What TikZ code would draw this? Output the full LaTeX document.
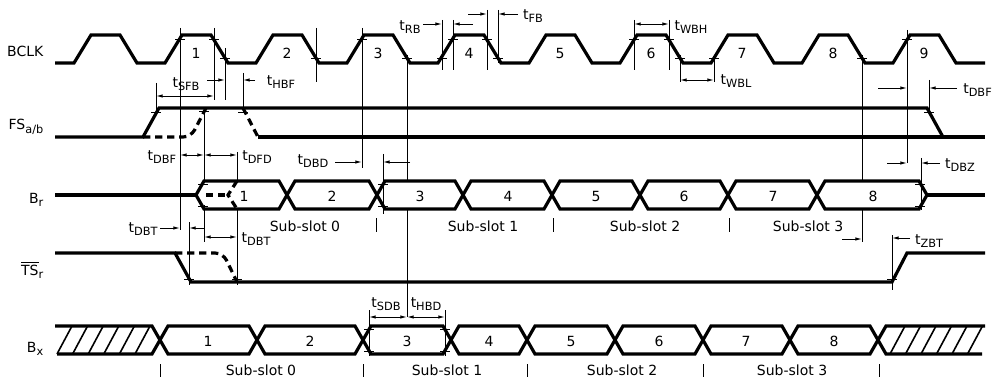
\documentclass[tikz,border=0pt]{standalone}
\usepackage{fontspec}
\setmainfont{DejaVu Sans}
\usetikzlibrary{arrows.meta}
\newcommand{\sbs}[1]{\raisebox{-0.45ex}{\fontsize{8.5}{10}\selectfont #1}}
\newcommand{\tlab}[1]{t\sbs{#1}}

\begin{document}
\begin{tikzpicture}[x=0.75pt,y=-0.75pt,
    font=\fontsize{10.5}{12}\selectfont,
    sig/.style={line width=2.4pt},
    dsig/.style={line width=2.4pt,dash pattern=on 5.5pt off 3.5pt,rounded corners=6pt},
    refl/.style={line width=0.7pt},
    hatch/.style={line width=1.2pt},
    meas/.style={line width=0.7pt,-{Latex[length=5pt,width=2.6pt]}},
    dmeas/.style={line width=0.7pt,{Latex[length=5pt,width=2.6pt]}-{Latex[length=5pt,width=2.6pt]}},
    lab/.style={inner sep=0pt}]
\useasboundingbox (0,0) rectangle (995,381);

% signal names
\node[anchor=base east] (nbclk) at (48,57) {BCLK};
\node[anchor=base east] (nfs) at (48,130) {FS\sbs{a/b}};
\node[anchor=base east] (nbr) at (48,203) {B\sbs{r}};
\node[anchor=base east] (nts) at (48,275) {$\overline{\mbox{TS}}$\sbs{r}};
\node[anchor=base east] (nbx) at (48,352) {B\sbs{x}};

% BCLK
\draw[sig] (55,63) \foreach \k in {0,...,9}{ -- ({74+91*\k},63) -- ({91+91*\k},35) -- ({120+91*\k},35) -- ({137+91*\k},63)} -- (985,63);
\foreach \k in {1,...,9} \node (p\k) at ({105+91*\k},53) {\k};

% FS a/b
\draw[sig] (55,137) -- (143,137) -- (159,108) -- (927,108) -- (943,137);
\draw[sig] (258,137) -- (985,137);
\draw[dsig] (143,137) -- (191,137) -- (206,108);
\draw[dsig] (243,108) -- (258,137);

% B r
\draw[sig] (55,195) -- (196,195);
\foreach \a/\b in {196/287,287/377,377/463,463/552,552/640,640/728,728/817,817/927}
  \draw[sig] (\a,195) -- (\a+8,181) -- (\b-8,181) -- (\b,195) -- (\b-8,209) -- (\a+8,209) -- cycle;
\draw[sig] (927,195) -- (985,195);
\draw[dsig,rounded corners=0pt] (206,195) -- (228,195);
\draw[dsig,rounded corners=0pt] (237,181) -- (228,195) -- (237,209);
\foreach \x/\n in {244/1,332/2,420/3,508/4,596/5,684/6,773/7,873/8} \node (r\n) at (\x,196) {\n};
\foreach \x/\n in {305/0,483/1,645/2,808/3} \node (rs\n) at (\x,226) {Sub-slot \n};
\foreach \x in {376,553,729} \draw[refl] (\x,218) -- (\x,232);

% TS r
\draw[sig] (55,253) -- (175,253) -- (191,282) -- (892,282) -- (907,253) -- (985,253);
\draw[dsig] (175,253) -- (223,253) -- (237,282);

% B x
\draw[sig] (55,326) -- (152,326) -- (160,340) -- (152,354) -- (57,354);
\foreach \k in {0,...,5} \draw[hatch] ({57+15.6*\k},354) -- ({72+15.6*\k},326);
\foreach \a/\b in {160/257,257/363,363/451,451/527,527/615,615/703,703/790,790/878}
  \draw[sig] (\a,340) -- (\a+8,326) -- (\b-8,326) -- (\b,340) -- (\b-8,354) -- (\a+8,354) -- cycle;
\draw[sig] (985,326) -- (886,326) -- (878,340) -- (886,354) -- (982,354);
\foreach \k in {0,...,5} \draw[hatch] ({890+15.5*\k},354) -- ({905+15.5*\k},326);
\foreach \x/\n in {208/1,310/2,407/3,489/4,571/5,659/6,746/7,834/8} \node (x\n) at (\x,341) {\n};
\foreach \x/\n in {261/0,447/1,622/2,792/3} \node (xs\n) at (\x,370) {Sub-slot \n};
\foreach \x in {160,363,527,703,879} \draw[refl] (\x,364) -- (\x,377);

% reference lines
\foreach \x/\ya/\yb in {156/83/113,180/28/230,214/28/100,225/48/100,243/73/113,316/28/82,
    362/28/168,407/55/180,407/210/317,442/20/70,453/20/70,487/10/70,498/10/63,
    634/20/70,669/20/70,680/55/82,714/55/82,862/55/180,862/210/242,907/30/163,
    929/80/113,921/158/210,892/235/290,204/110/181,204/205/242,237/152/181,
    237/208/285,189/222/285,383/154/214,369/310/356,445/310/356}
  \draw[refl] (\x,\ya) -- (\x,\yb);
\foreach \x/\y in {180/39,214/39,225/58,316/58,362/39,407/58,442/58,453/39,487/39,498/58,
    634/39,669/39,680/58,714/58,862/58,907/39,156/112,204/111,243/112,929/112,
    203/184,203/206,383/184,383/206,920/184,920/206,189/279,237/279,892/279,
    369/329,369/351,445/329,445/351}
  \draw[refl] (\x-5,\y) -- (\x+5,\y);

% timing arrows
\draw[dmeas] (156,96) -- (214,96);
\draw[meas] (207,80) -- (225,80);
\draw[meas] (255,80) -- (243,80);
\draw[dmeas] (180,155) -- (204,155);
\draw[dmeas] (204,155) -- (237,155);
\draw[meas] (335,162) -- (362,162);
\draw[meas] (410,162) -- (383,162);
\draw[meas] (423,24) -- (442,24);
\draw[meas] (473,24) -- (453,24);
\draw[meas] (468,14) -- (487,14);
\draw[meas] (518,14) -- (498,14);
\draw[dmeas] (634,24) -- (669,24);
\draw[dmeas] (680,80) -- (714,80);
\draw[meas] (878,88) -- (907,88);
\draw[meas] (957,88) -- (929,88);
\draw[meas] (887,163) -- (907,163);
\draw[meas] (940,163) -- (921,163);
\draw[meas] (842,239) -- (862,239);
\draw[meas] (910,238) -- (892,238);
\draw[meas] (160,228) -- (180,228);
\draw[meas] (204,228) -- (189,228);
\draw[dmeas] (204,237) -- (237,237);
\draw[dmeas] (369,317) -- (407,317);
\draw[dmeas] (407,317) -- (445,317);

% timing names
\node[lab] (tsfb) at (186,84) {\tlab{SFB}};
\node[lab] (thbf) at (281,82) {\tlab{HBF}};
\node[lab] (tdbf) at (162,157) {\tlab{DBF}};
\node[lab] (tdfd) at (257,157) {\tlab{DFD}};
\node[lab] (tdbd) at (313,161) {\tlab{DBD}};
\node[lab] (trb) at (410,27) {\tlab{RB}};
\node[lab] (tfb) at (533,16) {\tlab{FB}};
\node[lab] (twbh) at (691,27) {\tlab{WBH}};
\node[lab] (twbl) at (736,81) {\tlab{WBL}};
\node[lab,anchor=west] (tdbf2) at (963,90) {\tlab{DBF}};
\node[lab] (tdbz) at (960,165) {\tlab{DBZ}};
\node[lab] (tzbt) at (929,241) {\tlab{ZBT}};
\node[lab] (tdbt) at (143,229) {\tlab{DBT}};
\node[lab] (tdbt2) at (256,239) {\tlab{DBT}};
\node[lab] (tsdb) at (386,304) {\tlab{SDB}};
\node[lab] (thbd) at (426,304) {\tlab{HBD}};
\end{tikzpicture}
\end{document}
